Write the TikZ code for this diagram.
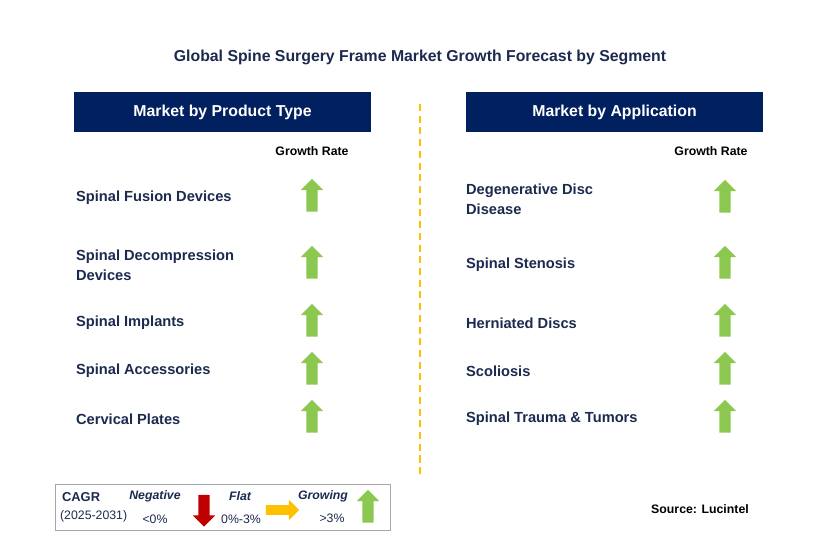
\documentclass[tikz,border=0pt]{standalone}
\usepackage{fontspec}
\setmainfont{Liberation Sans}
\usetikzlibrary{positioning, shapes.arrows}
\definecolor{navy}{HTML}{002060}
\definecolor{txtblue}{HTML}{1B2A4E}
\definecolor{upgreen}{HTML}{8CC850}
\definecolor{dnred}{HTML}{C00000}
\definecolor{flatamber}{HTML}{FFC000}

\begin{document}
\begin{tikzpicture}[
        x=0.03cm, y=-0.03cm,
        header/.style={rectangle, fill=navy, text=white, minimum width=8.91cm, minimum height=1.2cm, font=\fontsize{13.5}{16}\selectfont\bfseries},
        segment/.style={anchor=west, align=left, text=txtblue, font=\fontsize{12.5}{17}\selectfont\bfseries},
        rate/.style={text=black, font=\fontsize{10.5}{12}\selectfont\bfseries},
        uparrow/.style={single arrow, draw=none, fill=upgreen, shape border rotate=90, minimum width=0.68cm, minimum height=0.98cm, single arrow head extend=0.13cm, single arrow head indent=0cm, inner sep=0.12cm},
        legtxt/.style={text=txtblue, font=\fontsize{10.5}{12}\selectfont}
    ]
    \useasboundingbox (0,0) rectangle (829,558);

    \node[text=txtblue, font=\fontsize{13.5}{16}\selectfont\bfseries] (title) at (420,57) {Global Spine Surgery Frame Market Growth Forecast by Segment};

    \node[header] (hprod) at (222.5,112) {Market by Product Type};
    \node[header] (happ) at (614.5,112) {Market by Application};

    \coordinate (dtop) at (420,104);
    \coordinate (dbot) at (420,478);
    \draw[flatamber, line width=1.2pt, dash pattern=on 6pt off 4pt] (dtop) -- (dbot);

    \node[rate] (grl) at (312,151) {Growth Rate};
    \node[rate] (grr) at (711,151) {Growth Rate};

    % product type segments
    \foreach \n/\y/\t in {pa/198/{Spinal Fusion Devices}, pb/265/{Spinal Decompression\\Devices}, pc/323/{Spinal Implants}, pd/371/{Spinal Accessories}, pe/419/{Cervical Plates}} {
        \node[segment] (\n) at (72,\y) {\t};
        \node[uparrow] (\n arr) at (312,\y) {};
    }

    % application segments
    \foreach \n/\y/\t in {aa/199/{Degenerative Disc\\Disease}, ab/265/{Spinal Stenosis}, ac/323/{Herniated Discs}, ad/371/{Scoliosis}, ae/419/{Spinal Trauma \& Tumors}} {
        \node[segment] (\n) at (462,\y) {\t};
        \node[uparrow] (\n arr) at (725,\y) {};
    }

    % legend
    \draw[gray!70, line width=0.8pt] (55,484) rectangle (390,530);
    \node[legtxt, font=\fontsize{11}{13}\selectfont\bfseries, anchor=west] (cagr) at (58,497) {CAGR};
    \node[legtxt, anchor=west] (years) at (56,516) {(2025-2031)};
    \node[legtxt, font=\fontsize{10.5}{12}\selectfont\bfseries\itshape] (neg) at (155,496) {Negative};
    \node[legtxt] (negv) at (155,519) {<0\%};
    \node[single arrow, fill=dnred, shape border rotate=270, minimum width=0.68cm, minimum height=0.95cm, single arrow head extend=0.13cm, single arrow head indent=0cm, inner sep=0.12cm] (negarr) at (204,508) {};
    \node[legtxt, font=\fontsize{10.5}{12}\selectfont\bfseries\itshape] (flat) at (240,496) {Flat};
    \node[legtxt] (flatv) at (241,519) {0\%-3\%};
    \node[single arrow, fill=flatamber, minimum width=0.62cm, minimum height=1.0cm, single arrow head extend=0.12cm, single arrow head indent=0cm, inner sep=0.1cm] (flatarr) at (280,510) {};
    \node[legtxt, font=\fontsize{10.5}{12}\selectfont\bfseries\itshape] (grow) at (323,496) {Growing};
    \node[legtxt] (growv) at (332,518) {>3\%};
    \node[uparrow] (growarr) at (368,509) {};

    \node[text=black, font=\fontsize{10.5}{12}\selectfont\bfseries] (src) at (700,509) {Source: Lucintel};
\end{tikzpicture}
\end{document}
